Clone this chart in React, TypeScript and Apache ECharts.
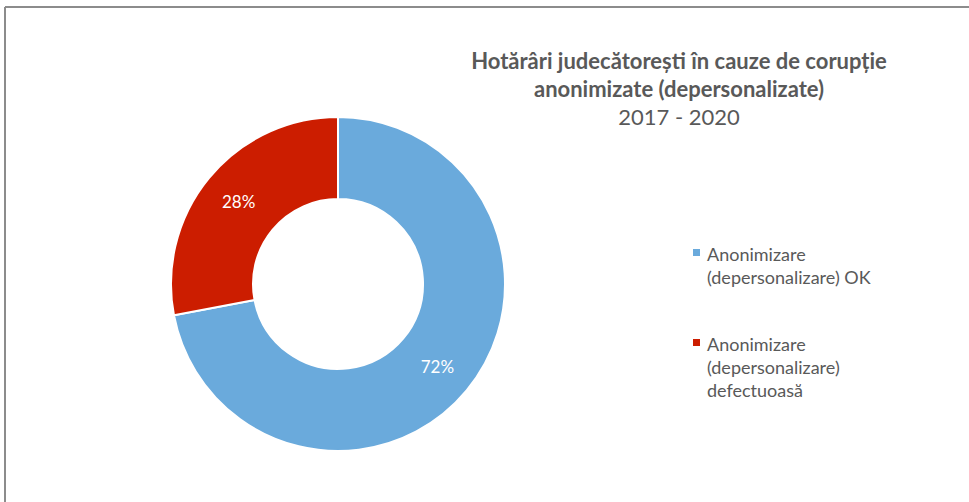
import React, { useEffect, useRef } from "react";
import * as echarts from "echarts";

const categories = [
  "Anonimizare (depersonalizare) OK",
  "Anonimizare (depersonalizare) defectuoasă",
];
const legendLines = [
  ["Anonimizare", "(depersonalizare) OK"],
  ["Anonimizare", "(depersonalizare)", "defectuoasă"],
];
const values = [72, 28];
const colors = ["#6aaadc", "#cc1d00"];
const titleText = "Hotărâri judecătorești în cauze de corupție\nanonimizate (depersonalizate)";
const subtitleText = "2017 - 2020";

const FONT = "Lato, 'Open Sans', sans-serif";

export default function App() {
  const ref = useRef<HTMLDivElement>(null);
  useEffect(() => {
    if (!ref.current) return;
    const chart = echarts.init(ref.current, null, { renderer: "svg" });
    const legendTop = [242, 332];
    const lineH = 23;
    const legendGraphics: any[] = [];
    legendLines.forEach((lines, i) => {
      legendGraphics.push({
        type: "rect",
        shape: { x: 693, y: legendTop[i] + 7, width: 7, height: 7 },
        style: { fill: colors[i] },
      });
      legendGraphics.push({
        type: "text",
        x: 707,
        y: legendTop[i],
        style: {
          text: lines.join("\n"),
          fill: "#595959",
          font: `18px ${FONT}`,
          lineHeight: lineH,
          textVerticalAlign: "top",
        },
      });
    });
    chart.setOption({
      animation: false,
      backgroundColor: "#ffffff",
      title: {
        text: titleText,
        subtext: subtitleText,
        left: 679,
        top: 46,
        padding: 0,
        textAlign: "center",
        itemGap: 0,
        textStyle: {
          fontFamily: FONT,
          fontSize: 22,
          fontWeight: "bold",
          color: "#595959",
          lineHeight: 28,
        },
        subtextStyle: {
          fontFamily: FONT,
          fontSize: 22,
          color: "#595959",
          lineHeight: 28,
        },
      },
      graphic: [
        {
          type: "line",
          shape: { x1: 5, y1: 7, x2: 969, y2: 7 },
          style: { stroke: "#8c8c8c", lineWidth: 2 },
        },
        {
          type: "line",
          shape: { x1: 5, y1: 7, x2: 5, y2: 502 },
          style: { stroke: "#8c8c8c", lineWidth: 2 },
        },
        ...legendGraphics,
      ],
      series: [
        {
          type: "pie",
          center: [338, 284],
          radius: [85, 167],
          startAngle: 90,
          clockwise: true,
          itemStyle: { borderColor: "#ffffff", borderWidth: 2 },
          label: {
            show: true,
            position: "inside",
            formatter: "{d}%",
            color: "#ffffff",
            fontFamily: FONT,
            fontSize: 17,
          },
          labelLine: { show: false },
          emphasis: { disabled: true },
          data: categories.map((name, i) => ({
            name,
            value: values[i],
            itemStyle: { color: colors[i] },
          })),
        },
      ],
    });
    return () => chart.dispose();
  }, []);
  return (
    <div
      ref={ref}
      style={{ position: "fixed", left: 0, top: 0, width: 969, height: 502 }}
    />
  );
}
